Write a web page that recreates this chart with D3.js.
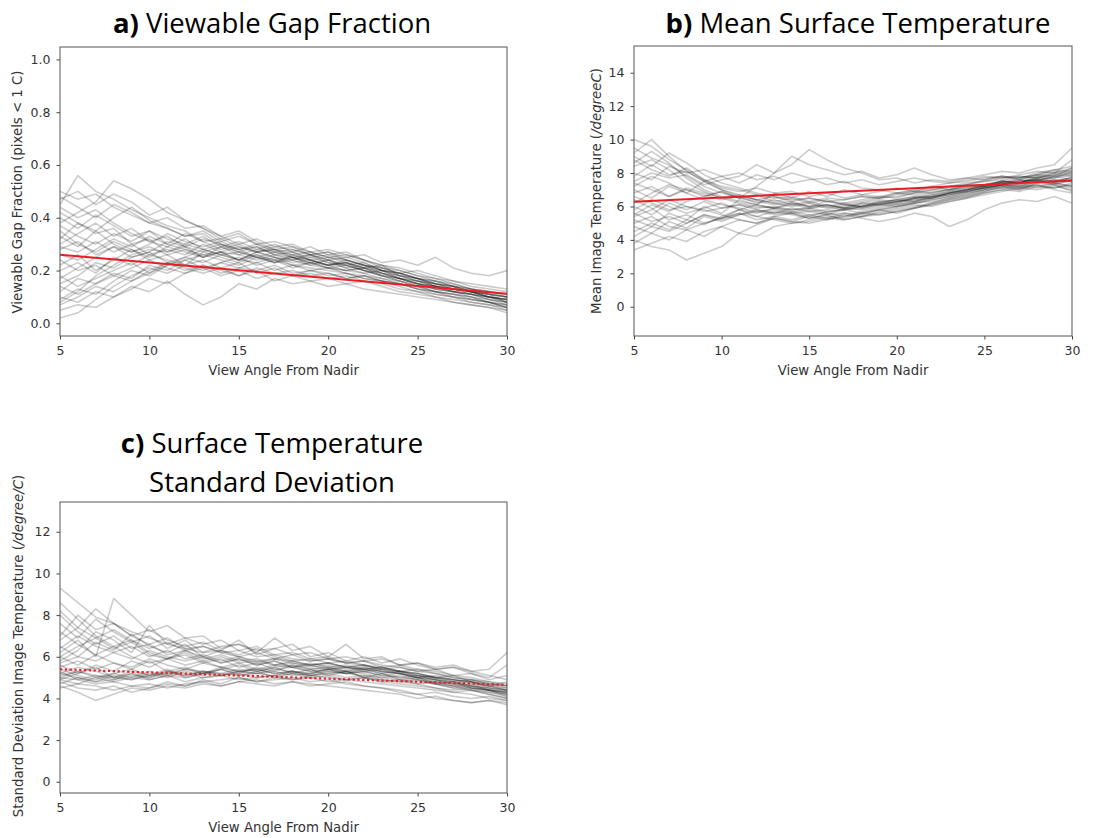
<!DOCTYPE html>
<html lang="en">
<head>
<meta charset="utf-8">
<title>View angle panels</title>
<script src="https://d3js.org/d3.v7.min.js"></script>
<style>
  body { margin: 0; background: #fff; }
  svg { width: 1094px; height: 838px; display: block; }
  .title { font-family: "Open Sans", "Noto Sans", sans-serif; font-size: 27.5px; fill: #000; }
  .tick text { font-family: "DejaVu Sans", sans-serif; font-size: 12.5px; fill: #333; }
  .alabel { font-family: "DejaVu Sans", sans-serif; font-size: 13.3px; fill: #333; }
</style>
</head>
<body>
<svg></svg>
<script>
// view angle from nadir, 1 degree steps
const angles = d3.range(5, 31);
const xTicks = [5, 10, 15, 20, 25, 30];

// a) viewable gap fraction, one row per image series (read off the picture)
const gapSeries = [
  [0.50,0.47,0.49,0.44,0.41,0.38,0.36,0.33,0.34,0.30,0.28,0.29,0.26,0.25,0.24,0.22,0.23,0.20,0.18,0.17,0.15,0.14,0.12,0.11,0.10,0.09],
  [0.45,0.56,0.50,0.47,0.43,0.40,0.37,0.35,0.31,0.32,0.29,0.27,0.28,0.25,0.26,0.23,0.21,0.22,0.19,0.17,0.16,0.14,0.13,0.12,0.10,0.08],
  [0.38,0.42,0.46,0.54,0.51,0.47,0.42,0.39,0.36,0.33,0.35,0.31,0.28,0.29,0.26,0.27,0.24,0.22,0.20,0.19,0.17,0.15,0.14,0.12,0.11,0.10],
  [0.08,0.12,0.18,0.22,0.26,0.28,0.27,0.30,0.28,0.26,0.27,0.25,0.24,0.25,0.23,0.21,0.22,0.20,0.18,0.16,0.14,0.13,0.12,0.10,0.09,0.07],
  [0.02,0.04,0.09,0.14,0.18,0.21,0.19,0.22,0.20,0.23,0.21,0.20,0.22,0.19,0.20,0.18,0.19,0.17,0.16,0.14,0.12,0.11,0.10,0.08,0.07,0.06],
  [0.30,0.34,0.38,0.33,0.36,0.31,0.29,0.32,0.28,0.30,0.27,0.29,0.26,0.27,0.24,0.25,0.23,0.21,0.22,0.18,0.16,0.15,0.13,0.12,0.10,0.09],
  [0.15,0.18,0.23,0.21,0.25,0.27,0.31,0.29,0.32,0.30,0.28,0.30,0.27,0.28,0.26,0.24,0.25,0.23,0.20,0.19,0.17,0.14,0.13,0.12,0.11,0.08],
  [0.40,0.36,0.41,0.37,0.33,0.35,0.30,0.28,0.26,0.27,0.24,0.23,0.25,0.22,0.20,0.21,0.19,0.18,0.17,0.15,0.14,0.12,0.11,0.09,0.08,0.06],
  [0.10,0.08,0.12,0.10,0.14,0.12,0.16,0.11,0.07,0.10,0.15,0.13,0.17,0.15,0.16,0.14,0.15,0.13,0.12,0.11,0.10,0.09,0.08,0.07,0.06,0.05],
  [0.22,0.26,0.20,0.24,0.28,0.25,0.29,0.27,0.25,0.29,0.31,0.28,0.30,0.27,0.29,0.26,0.27,0.24,0.22,0.20,0.18,0.16,0.15,0.13,0.12,0.11],
  [0.35,0.30,0.27,0.31,0.28,0.24,0.26,0.22,0.24,0.21,0.23,0.19,0.21,0.18,0.19,0.17,0.18,0.16,0.15,0.13,0.12,0.10,0.09,0.08,0.07,0.05],
  [0.26,0.24,0.28,0.32,0.29,0.33,0.30,0.34,0.31,0.28,0.30,0.27,0.29,0.28,0.26,0.27,0.25,0.26,0.23,0.24,0.22,0.25,0.21,0.19,0.18,0.20],
  [0.48,0.44,0.40,0.45,0.42,0.38,0.40,0.36,0.37,0.33,0.30,0.32,0.29,0.30,0.27,0.25,0.26,0.24,0.21,0.20,0.18,0.17,0.15,0.13,0.12,0.11],
  [0.05,0.07,0.06,0.10,0.13,0.17,0.15,0.19,0.21,0.18,0.20,0.17,0.19,0.18,0.16,0.17,0.15,0.16,0.14,0.12,0.11,0.10,0.08,0.07,0.06,0.04],
  [0.18,0.14,0.17,0.20,0.23,0.19,0.22,0.24,0.21,0.23,0.25,0.22,0.24,0.21,0.23,0.22,0.20,0.21,0.19,0.17,0.15,0.14,0.12,0.11,0.10,0.09],
  [0.42,0.38,0.34,0.36,0.30,0.32,0.27,0.29,0.25,0.27,0.24,0.26,0.23,0.25,0.22,0.24,0.21,0.19,0.20,0.17,0.16,0.14,0.13,0.11,0.10,0.08],
  [0.12,0.17,0.15,0.19,0.17,0.22,0.20,0.24,0.26,0.24,0.22,0.25,0.23,0.26,0.24,0.22,0.23,0.21,0.19,0.18,0.16,0.15,0.13,0.12,0.10,0.09],
  [0.32,0.38,0.35,0.40,0.44,0.39,0.36,0.33,0.35,0.31,0.33,0.30,0.31,0.29,0.27,0.28,0.26,0.24,0.22,0.21,0.19,0.17,0.16,0.14,0.13,0.12],
  [0.07,0.10,0.14,0.12,0.16,0.19,0.23,0.21,0.19,0.21,0.18,0.20,0.16,0.18,0.20,0.19,0.17,0.18,0.16,0.15,0.13,0.12,0.10,0.09,0.08,0.06],
  [0.28,0.31,0.26,0.29,0.25,0.27,0.23,0.25,0.28,0.26,0.24,0.27,0.25,0.23,0.24,0.22,0.24,0.22,0.21,0.19,0.20,0.18,0.16,0.15,0.14,0.13],
  [0.33,0.29,0.35,0.30,0.27,0.29,0.26,0.28,0.25,0.27,0.26,0.24,0.26,0.24,0.25,0.23,0.22,0.20,0.19,0.17,0.15,0.13,0.12,0.11,0.09,0.08],
  [0.20,0.23,0.19,0.25,0.22,0.26,0.24,0.22,0.27,0.25,0.23,0.26,0.24,0.22,0.23,0.21,0.20,0.21,0.18,0.16,0.14,0.12,0.11,0.10,0.08,0.07],
  [0.44,0.40,0.43,0.38,0.34,0.31,0.33,0.29,0.27,0.29,0.26,0.28,0.27,0.25,0.23,0.24,0.22,0.20,0.18,0.17,0.15,0.13,0.12,0.11,0.09,0.08],
  [0.14,0.11,0.15,0.18,0.16,0.20,0.23,0.20,0.22,0.19,0.21,0.23,0.20,0.22,0.21,0.20,0.19,0.17,0.16,0.15,0.13,0.12,0.11,0.10,0.08,0.07],
  [0.37,0.33,0.30,0.34,0.31,0.35,0.32,0.30,0.33,0.29,0.27,0.25,0.27,0.26,0.24,0.22,0.23,0.21,0.20,0.18,0.17,0.15,0.14,0.12,0.11,0.10],
  [0.24,0.20,0.22,0.18,0.21,0.24,0.21,0.19,0.22,0.20,0.18,0.21,0.19,0.20,0.18,0.19,0.17,0.18,0.16,0.15,0.13,0.11,0.10,0.09,0.08,0.06],
  [0.47,0.50,0.45,0.49,0.46,0.41,0.44,0.39,0.36,0.32,0.34,0.30,0.28,0.27,0.25,0.26,0.24,0.22,0.21,0.19,0.17,0.15,0.14,0.12,0.11,0.10],
  [0.09,0.13,0.11,0.16,0.20,0.18,0.22,0.25,0.23,0.26,0.24,0.27,0.25,0.24,0.26,0.24,0.22,0.23,0.20,0.18,0.17,0.16,0.14,0.13,0.11,0.10],
  [0.29,0.27,0.31,0.27,0.30,0.26,0.28,0.26,0.30,0.27,0.29,0.27,0.28,0.26,0.27,0.25,0.24,0.22,0.20,0.19,0.17,0.16,0.14,0.13,0.12,0.10],
  [0.17,0.21,0.25,0.29,0.27,0.30,0.34,0.31,0.29,0.31,0.28,0.25,0.23,0.24,0.22,0.21,0.20,0.19,0.17,0.16,0.15,0.14,0.13,0.12,0.10,0.09]
];

// b) mean image temperature
const meanSeries = [
  [10.0,9.6,8.8,8.2,7.6,7.2,7.0,6.7,6.5,6.6,6.3,6.5,6.4,6.6,6.5,6.8,6.9,7.1,7.2,7.4,7.5,7.6,7.8,7.7,7.9,7.8],
  [9.2,10.0,9.0,8.1,7.5,7.0,6.6,6.4,6.2,6.0,6.2,5.9,6.1,6.0,6.3,6.2,6.5,6.7,6.9,7.0,7.2,7.4,7.3,7.6,7.5,7.7],
  [3.4,3.8,4.2,3.9,4.5,4.8,5.2,5.0,5.4,5.2,5.5,5.3,5.6,5.5,5.8,5.6,5.9,6.1,6.3,6.5,6.8,7.0,6.9,7.2,7.1,7.3],
  [4.0,3.6,3.4,2.8,3.2,3.6,4.4,4.2,4.8,5.0,5.2,5.4,5.3,5.6,5.8,6.0,6.2,6.4,6.6,6.8,7.0,7.2,7.1,7.3,7.0,6.8],
  [7.5,8.0,7.7,7.9,7.3,7.6,7.8,8.5,8.0,9.0,8.5,8.2,7.9,8.1,7.7,7.9,8.3,7.9,7.6,7.7,7.9,8.1,8.0,8.3,8.5,9.5],
  [6.0,5.5,6.2,5.8,6.3,5.9,6.1,5.8,5.6,5.7,5.5,5.6,5.4,5.7,5.9,6.1,6.3,6.5,6.8,7.0,7.2,7.5,7.4,7.8,8.0,7.9],
  [8.4,8.8,8.2,7.4,6.9,6.5,6.2,6.0,5.9,5.7,5.8,5.6,5.9,5.8,6.0,6.2,6.4,6.5,6.7,6.9,7.1,7.3,7.5,7.6,7.8,8.0],
  [5.0,5.4,4.8,4.6,5.0,5.3,5.6,5.4,5.7,5.5,5.3,5.5,5.6,5.4,5.6,5.8,6.0,6.2,6.5,6.7,7.0,7.1,7.3,7.2,7.4,7.2],
  [7.0,6.5,7.2,6.8,7.5,7.8,7.4,7.9,7.6,8.0,7.7,7.3,7.5,7.1,7.0,6.8,7.0,7.2,7.4,7.5,7.7,7.8,7.6,7.9,8.2,8.4],
  [5.8,6.4,6.0,5.6,5.9,6.2,5.8,5.4,5.2,5.0,5.1,5.3,5.2,5.4,5.5,5.7,5.9,6.1,6.4,6.6,6.9,7.2,7.0,7.4,7.3,7.1],
  [9.0,8.4,9.2,8.6,7.9,7.4,7.1,6.8,6.6,6.4,6.5,6.3,6.2,6.4,6.6,6.5,6.8,7.0,7.1,7.3,7.6,7.8,7.7,8.0,8.2,8.1],
  [4.5,5.0,4.6,5.2,4.9,5.4,5.8,6.1,5.9,6.2,6.0,6.3,6.1,6.0,6.2,6.4,6.3,6.5,6.7,6.9,7.1,7.2,7.4,7.5,7.3,7.6],
  [6.8,7.2,6.6,7.0,6.7,6.4,6.6,6.2,6.4,6.1,6.3,6.0,6.2,5.9,6.1,6.0,6.2,6.4,6.6,6.8,7.0,7.3,7.1,7.4,7.6,7.5],
  [8.0,7.6,8.4,8.0,8.2,7.8,8.0,7.6,7.8,7.4,7.6,7.7,7.4,7.6,7.3,7.5,7.7,7.5,7.4,7.6,7.8,7.7,7.9,8.1,8.0,8.8],
  [3.8,4.4,4.0,4.6,4.2,4.8,4.4,4.9,5.3,5.1,5.4,5.2,5.5,5.3,5.1,5.3,5.6,5.4,4.8,5.2,5.8,6.2,6.4,6.3,6.6,6.2],
  [5.2,4.8,5.6,5.2,6.0,5.6,6.4,6.1,6.8,6.5,6.9,6.6,7.0,6.7,6.9,7.1,6.9,7.2,7.0,7.3,7.2,7.5,7.4,7.6,7.5,7.7],
  [7.8,8.5,7.9,8.1,7.5,7.0,6.7,6.4,6.2,6.3,6.0,6.1,5.9,6.0,6.2,6.1,6.3,6.6,6.8,6.9,7.1,7.3,7.2,7.5,7.4,7.8],
  [6.4,5.9,5.2,5.5,5.0,5.3,5.6,5.2,5.4,5.6,5.3,5.5,5.2,5.4,5.7,5.9,6.1,6.0,6.3,6.5,6.7,6.9,7.1,7.0,7.2,7.0],
  [8.8,8.2,7.8,8.3,7.6,7.1,6.9,7.1,6.8,6.9,6.6,6.8,6.5,6.7,6.6,6.8,6.7,6.9,7.0,7.2,7.3,7.5,7.7,7.9,7.8,8.3],
  [5.5,6.1,5.7,6.3,6.6,6.9,6.5,7.2,8.0,8.5,9.4,8.8,8.3,8.0,7.6,7.7,7.4,7.6,7.5,7.7,7.6,7.8,7.7,7.9,8.1,8.0],
  [7.2,7.8,7.4,6.8,6.4,6.1,5.9,5.7,5.8,5.6,5.7,5.5,5.8,5.9,6.1,6.3,6.5,6.6,6.8,7.0,7.2,7.3,7.5,7.6,7.7,7.9],
  [6.6,6.2,5.8,6.0,5.7,5.9,6.1,5.9,6.0,5.8,5.9,6.1,5.9,6.2,6.4,6.3,6.5,6.7,6.9,7.1,7.2,7.4,7.6,7.5,7.8,7.6],
  [4.8,4.4,5.1,4.7,5.4,5.1,5.5,5.8,5.6,5.9,5.7,5.8,6.0,6.2,6.1,6.3,6.4,6.6,6.7,6.9,7.1,7.3,7.2,7.5,7.4,7.2],
  [9.5,8.9,8.5,7.8,7.2,6.8,6.5,6.3,6.1,6.2,6.0,6.1,5.9,6.1,6.3,6.4,6.6,6.8,7.0,7.1,7.3,7.5,7.4,7.7,7.9,8.2],
  [5.6,5.1,5.4,5.0,5.5,5.2,5.5,5.7,5.5,5.6,5.4,5.7,5.8,5.6,5.8,6.0,6.2,6.3,6.5,6.7,6.9,7.1,7.0,7.3,7.1,7.4],
  [6.2,6.8,7.3,7.0,6.6,6.9,6.5,6.7,6.3,6.5,6.2,6.4,6.1,6.3,6.5,6.6,6.8,7.0,7.2,7.3,7.5,7.7,7.8,7.7,8.0,8.3],
  [8.6,9.3,8.6,7.7,7.0,6.6,6.3,6.1,5.9,5.8,5.9,5.7,5.8,6.0,6.1,6.3,6.5,6.6,6.8,7.0,7.3,7.4,7.6,7.8,7.7,8.1],
  [4.2,4.8,4.5,5.0,5.5,5.3,5.8,5.6,5.9,6.1,5.9,6.0,5.8,6.0,6.2,6.4,6.6,6.5,6.8,7.0,7.1,7.3,7.5,7.6,7.4,7.5],
  [7.4,7.0,6.6,7.1,6.8,6.5,6.7,6.4,6.6,6.3,6.5,6.3,6.4,6.6,6.5,6.7,6.9,6.8,7.0,7.2,7.3,7.5,7.4,7.7,7.6,7.5],
  [5.4,5.8,6.4,6.0,5.8,5.5,5.2,5.0,5.3,5.1,5.0,5.2,5.4,5.6,5.5,5.7,5.9,6.2,6.4,6.6,6.8,7.0,7.2,7.1,7.3,6.9]
];

// c) standard deviation of image temperature
const sdSeries = [
  [9.3,8.6,7.9,7.6,7.2,6.9,6.6,6.4,6.5,6.2,6.3,6.0,6.1,5.9,5.8,5.9,5.7,5.6,5.4,5.5,5.3,5.2,5.0,4.9,4.7,4.6],
  [5.0,4.9,5.1,5.0,4.9,5.1,5.2,5.1,5.3,5.2,5.1,5.2,5.3,5.1,5.2,5.3,5.2,5.1,5.0,4.9,4.8,4.7,4.5,4.4,4.3,4.2],
  [8.2,7.4,8.3,7.6,7.0,7.3,6.8,6.5,6.7,6.3,6.1,6.4,6.0,5.8,5.9,5.7,5.8,5.6,5.5,5.3,5.4,5.2,5.0,4.9,4.8,4.6],
  [4.6,4.3,3.9,4.2,4.5,4.4,4.6,4.5,4.7,4.6,4.8,4.7,4.6,4.8,4.7,4.6,4.5,4.4,4.3,4.2,4.0,4.1,3.9,3.8,3.9,3.7],
  [6.2,6.8,6.0,8.8,8.0,7.2,7.5,6.9,6.6,6.8,6.3,6.5,6.1,6.2,5.9,6.0,5.7,5.8,5.5,5.6,5.4,5.3,5.1,5.2,4.9,5.1],
  [5.2,5.0,4.8,4.9,5.1,5.0,5.2,5.4,5.3,5.2,5.4,5.3,5.5,5.6,5.4,5.5,5.3,5.2,5.0,5.1,4.9,4.7,4.6,4.4,4.2,4.0],
  [7.6,6.9,7.8,7.2,6.7,7.0,6.4,6.8,6.2,6.5,6.6,6.3,6.4,6.1,6.2,5.9,6.0,5.8,5.9,5.6,5.7,5.5,5.6,5.3,5.4,6.2],
  [5.5,5.8,5.4,5.7,5.5,5.9,5.6,5.4,5.7,5.5,5.3,5.4,5.2,5.3,5.1,5.2,5.3,5.0,4.9,4.8,4.7,4.5,4.4,4.5,4.3,4.1],
  [4.8,4.5,4.4,4.6,4.3,4.5,4.7,4.6,4.8,4.9,5.0,4.8,4.9,5.0,4.8,4.9,4.7,4.6,4.5,4.3,4.2,4.0,3.9,3.8,3.9,3.8],
  [6.8,7.4,6.9,6.4,6.7,6.1,5.9,6.2,5.8,6.0,5.7,5.8,5.6,5.7,5.5,5.6,5.4,5.5,5.3,5.2,5.0,5.1,4.9,4.8,4.6,4.5],
  [5.8,6.3,7.2,6.8,6.2,7.5,6.6,6.9,7.0,6.4,6.6,6.2,6.9,6.3,6.5,6.0,6.6,5.9,6.0,5.6,5.7,5.4,5.5,5.2,5.0,5.6],
  [5.1,5.3,5.0,5.2,5.4,5.1,5.3,5.2,5.0,5.1,5.2,5.0,5.1,5.2,5.0,5.1,4.9,5.0,4.8,4.9,4.7,4.8,4.6,4.5,4.4,4.2],
  [7.0,8.0,7.3,7.6,7.0,6.6,6.9,6.4,6.2,6.3,6.0,5.8,5.9,5.7,5.6,5.7,5.5,5.4,5.5,5.3,5.2,5.0,5.1,4.8,4.7,4.5],
  [4.9,5.2,5.6,5.3,5.8,5.5,5.9,6.3,6.0,5.7,5.9,5.6,5.8,5.5,5.6,5.4,5.5,5.3,5.4,5.2,5.1,4.9,4.8,4.6,4.4,4.3],
  [5.3,4.9,4.7,4.8,4.6,4.7,4.5,4.7,4.8,4.6,4.8,4.9,4.7,4.8,4.6,4.7,4.8,4.6,4.5,4.4,4.2,4.3,4.1,4.0,4.1,3.9],
  [6.5,6.0,6.7,6.3,7.1,6.5,6.2,6.6,6.0,6.3,6.8,6.1,6.4,6.6,6.0,6.2,5.8,6.0,5.7,5.9,5.6,5.4,5.5,5.3,5.1,4.9],
  [5.6,5.2,5.5,5.0,5.3,5.1,5.4,5.0,5.2,5.4,5.1,5.3,5.0,5.2,5.1,5.3,5.2,5.4,5.2,5.0,5.1,4.9,4.7,4.8,4.5,4.4],
  [8.6,7.8,7.0,6.5,6.8,6.2,5.9,6.1,5.7,5.9,5.5,5.7,5.4,5.5,5.3,5.4,5.2,5.3,5.1,5.0,4.9,4.8,4.6,4.7,4.4,4.3],
  [4.7,5.0,4.8,5.1,4.9,5.2,5.0,5.3,5.1,5.4,5.2,5.5,5.3,5.6,5.4,5.5,5.3,5.4,5.2,5.3,5.1,5.0,4.8,4.9,4.7,4.6],
  [6.0,5.6,6.1,5.7,5.4,5.8,5.3,5.5,5.2,5.4,5.6,5.3,5.5,5.2,5.4,5.1,5.3,5.0,5.2,4.9,5.0,4.7,4.8,4.5,4.4,4.1],
  [5.4,5.1,4.9,5.2,5.0,5.3,5.1,5.4,5.2,5.5,5.3,5.2,5.4,5.3,5.2,5.4,5.3,5.5,5.3,5.2,5.0,4.9,4.7,4.6,4.5,4.3],
  [6.4,7.0,6.5,6.2,6.5,6.0,6.3,5.9,6.1,5.8,6.0,5.7,5.9,5.8,5.6,5.7,5.5,5.6,5.4,5.3,5.1,5.0,4.9,4.7,4.6,4.4],
  [4.9,4.7,5.0,4.8,5.0,4.9,5.1,5.0,5.2,5.1,5.3,5.2,5.1,5.3,5.2,5.4,5.5,5.4,5.3,5.2,5.0,4.8,4.7,4.5,4.4,4.3],
  [7.2,6.6,6.1,6.5,6.0,5.7,5.9,5.6,5.8,5.5,5.7,5.4,5.6,5.5,5.3,5.4,5.2,5.3,5.1,5.2,5.0,4.9,4.8,4.6,4.5,4.4],
  [5.2,5.5,5.3,5.0,5.2,4.9,5.1,4.8,5.0,5.1,4.9,5.0,5.1,4.9,5.0,4.8,4.9,4.8,4.7,4.6,4.5,4.4,4.3,4.4,4.2,4.0],
  [6.0,6.5,6.9,7.3,6.8,6.4,6.7,6.3,6.5,6.2,6.0,6.2,5.9,6.1,5.8,5.9,5.7,5.8,5.6,5.5,5.3,5.4,5.1,5.0,4.8,4.7],
  [4.5,4.7,4.6,4.4,4.6,4.5,4.8,4.6,4.9,4.7,5.0,4.8,5.0,4.9,5.1,5.0,4.9,5.0,4.8,4.7,4.6,4.5,4.3,4.2,4.0,3.9],
  [5.7,6.0,5.8,6.2,5.9,6.3,6.0,5.8,6.0,5.7,5.9,5.6,5.8,5.5,5.7,5.5,5.6,5.4,5.5,5.3,5.2,5.0,4.9,4.8,4.6,4.8],
  [5.0,5.3,5.1,4.9,5.2,5.0,5.3,5.1,5.3,5.1,5.3,5.4,5.2,5.3,5.1,5.2,5.0,5.1,4.9,4.8,4.9,4.7,4.5,4.6,4.4,4.2],
  [8.0,7.2,6.6,7.0,6.4,6.6,6.1,6.3,5.9,6.1,5.8,5.9,5.6,5.8,5.6,5.7,5.5,5.6,5.4,5.3,5.2,5.0,4.9,4.8,4.6,4.4]
];

// fitted trend lines: value at 5 and at 30 degrees
const trendX = [5, 30];
const gapTrend = [0.26, 0.112];
const meanTrend = [6.28, 7.55];
const sdTrend = [5.4, 4.65];

const gapTicks = [0, 0.2, 0.4, 0.6, 0.8, 1.0];
const meanTicks = [0, 2, 4, 6, 8, 10, 12, 14];
const sdTicks = [0, 2, 4, 6, 8, 10, 12];

const svg = d3.select("svg");

function drawPanel(p) {
  const g = svg.append("g").attr("transform", `translate(${p.left},${p.top})`);
  const x = d3.scaleLinear().domain([5, 30]).range([0, p.w]);
  const y = d3.scaleLinear().domain(p.yDomain).range([p.h, 0]);

  const clipId = "clip" + p.id;
  g.append("clipPath").attr("id", clipId)
    .append("rect").attr("width", p.w).attr("height", p.h);

  const line = d3.line().x((d, i) => x(angles[i])).y(d => y(d));
  const plot = g.append("g").attr("clip-path", `url(#${clipId})`);
  plot.selectAll("path.run")
    .data(p.series)
    .enter().append("path")
    .attr("class", "run")
    .attr("d", line)
    .attr("fill", "none")
    .attr("stroke", "#000")
    .attr("stroke-opacity", 0.2)
    .attr("stroke-width", 1.6)
    .attr("stroke-linejoin", "round");

  const tline = d3.line().x((d, i) => x(trendX[i])).y(d => y(d));
  plot.append("path")
    .attr("d", tline(p.trend))
    .attr("fill", "none")
    .attr("stroke", "#ec1c24")
    .attr("stroke-width", p.dotted ? 2.2 : 2)
    .attr("stroke-dasharray", p.dotted ? "2.2,2.6" : null);

  // axes
  const xa = g.append("g").attr("transform", `translate(0,${p.h})`)
    .call(d3.axisBottom(x).tickValues(xTicks).tickSize(3.5).tickPadding(7));
  const ya = g.append("g")
    .call(d3.axisLeft(y).tickValues(p.yTicks).tickSize(3.5).tickPadding(6).tickFormat(p.fmt));
  [xa, ya].forEach(a => {
    a.select(".domain").remove();
    a.selectAll(".tick line").attr("stroke", "#444");
  });

  g.append("rect").attr("width", p.w).attr("height", p.h)
    .attr("fill", "none").attr("stroke", "#555").attr("stroke-width", 1);

  g.append("text").attr("class", "alabel")
    .attr("x", p.w / 2).attr("y", p.h + 39)
    .attr("text-anchor", "middle")
    .text("View Angle From Nadir");

  const yl = g.append("text").attr("class", "alabel")
    .attr("transform", `translate(${p.ylabX},${p.ylabY}) rotate(-90)`)
    .attr("text-anchor", "middle");
  yl.append("tspan").text(p.ylab[0]);
  yl.append("tspan").attr("font-style", "italic").text(p.ylab[1]);
  yl.append("tspan").text(p.ylab[2]);

  // title lines, first line begins with a bold label
  p.title.forEach((t, i) => {
    const tt = svg.append("text").attr("class", "title")
      .attr("x", p.titleX).attr("y", p.titleY + i * 39)
      .attr("text-anchor", "middle");
    if (i === 0) tt.append("tspan").attr("font-weight", "bold").text(p.tag + " ");
    tt.append("tspan").text(t);
  });
}

drawPanel({
  id: "a", left: 60, top: 47, w: 447, h: 289,
  yDomain: [-0.048, 1.047], yTicks: gapTicks, fmt: d3.format(".1f"),
  series: gapSeries, trend: gapTrend,
  ylab: ["Viewable Gap Fraction (pixels < 1 C)", "", ""], ylabX: -38.5, ylabY: 145,
  tag: "a)", title: ["Viewable Gap Fraction"], titleX: 272, titleY: 33
});

drawPanel({
  id: "b", left: 634, top: 46, w: 438, h: 290,
  yDomain: [-1.75, 15.6], yTicks: meanTicks, fmt: d3.format("d"),
  series: meanSeries, trend: meanTrend,
  ylab: ["Mean Image Temperature (", "/degreeC", ")"], ylabX: -33.5, ylabY: 145,
  tag: "b)", title: ["Mean Surface Temperature"], titleX: 858, titleY: 33
});

drawPanel({
  id: "c", left: 60, top: 502, w: 447, h: 291,
  yDomain: [-0.54, 13.43], yTicks: sdTicks, fmt: d3.format("d"),
  series: sdSeries, trend: sdTrend, dotted: true,
  ylab: ["Standard Deviation Image Temperature (", "/degree/C", ")"], ylabX: -37.5, ylabY: 144,
  tag: "c)", title: ["Surface Temperature", "Standard Deviation"], titleX: 272, titleY: 453
});
</script>
</body>
</html>
